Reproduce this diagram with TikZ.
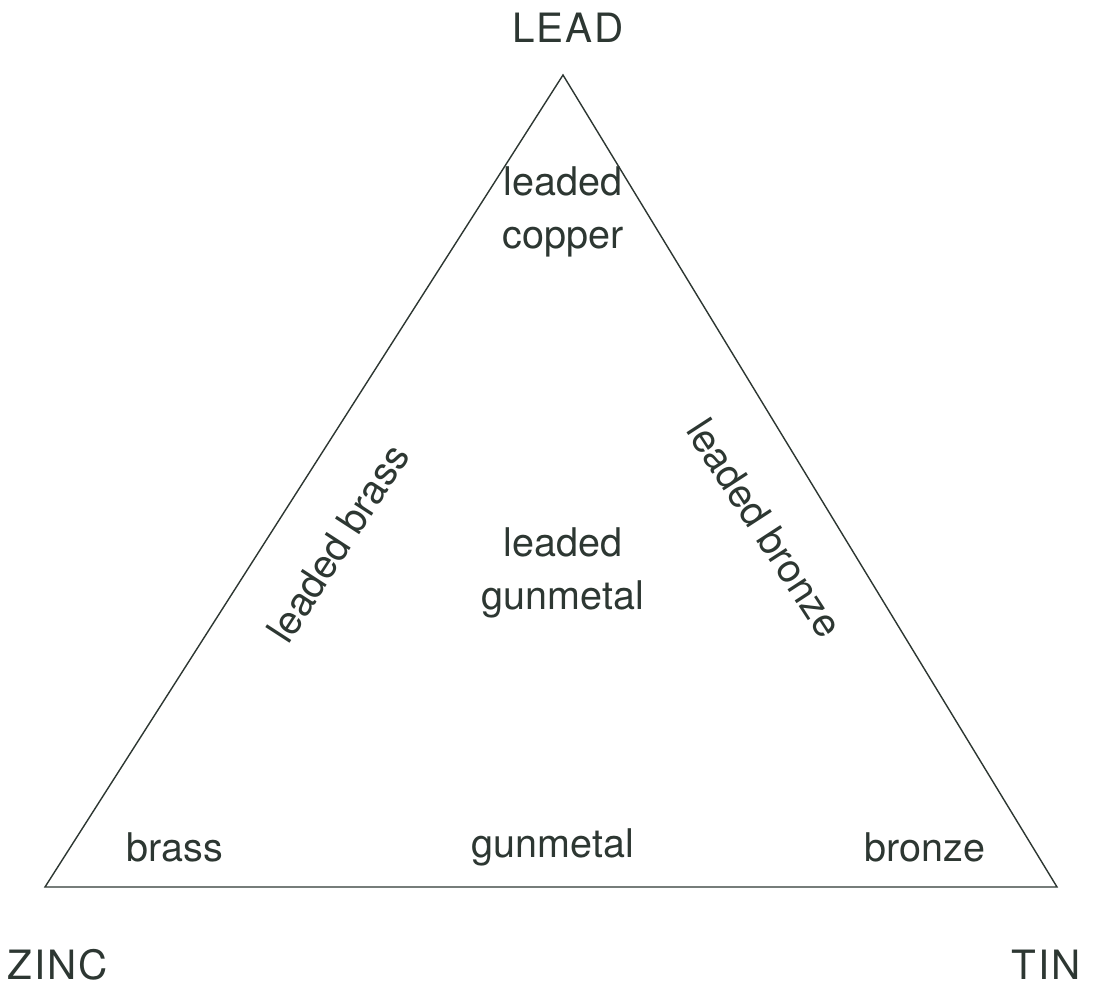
\documentclass[tikz,border=0pt]{standalone}
\usepackage{fontspec}
\setmainfont{TeX Gyre Heros}
\newfontfamily\capsfont[LetterSpace=5]{TeX Gyre Heros}
\usepackage{xcolor}
\usepackage{tikz}

\definecolor{inkgray}{RGB}{45,55,50}

\tikzset{
  alloy/.style={font=\fontsize{22.5}{30}\selectfont, text=inkgray, align=center, inner sep=0pt},
  metal/.style={font=\capsfont\fontsize{23}{28}\selectfont, text=inkgray, inner sep=0pt}
}

\begin{document}
\begin{tikzpicture}[x=0.02cm, y=-0.02cm]
  % page frame
  \useasboundingbox (0,0) rectangle (1099,993);

  % corners of the triangle
  \coordinate (lead) at (563, 75);
  \coordinate (zinc) at (45, 887);
  \coordinate (tin)  at (1057, 887);
  \draw[inkgray, line width=0.8pt, line join=miter] (lead) -- (tin) -- (zinc) -- cycle;

  % pure metals
  \node[metal] (leadlbl) at (568, 28) {LEAD};
  \node[metal] (zinclbl) at (58, 965) {ZINC};
  \node[metal] (tinlbl)  at (1046, 965) {TIN};

  % alloys inside
  \node[alloy] (copper)   at (563, 212) {leaded\\copper};
  \node[alloy] (lgunmet)  at (563, 573) {leaded\\gunmetal};
  \node[alloy, rotate=57]  (lbrass)  at (338, 543) {leaded brass};
  \node[alloy, rotate=-57] (lbronze) at (765, 528) {leaded bronze};

  % alloys along the base
  \node[alloy] (brass)    at (175, 847) {brass};
  \node[alloy] (gunmetal) at (553, 847) {gunmetal};
  \node[alloy] (bronze)   at (925, 847) {bronze};
\end{tikzpicture}
\end{document}
